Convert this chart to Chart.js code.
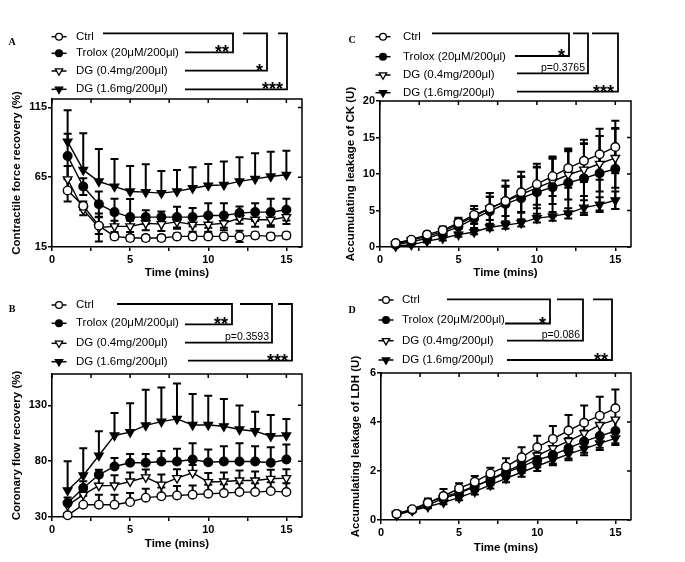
<!DOCTYPE html>
<html>
<head>
<meta charset="utf-8">
<script src="https://cdn.jsdelivr.net/npm/chart.js@4"></script>
<style>
  body { margin: 0; background: #fff; }
  #wrap { position: relative; width: 685px; height: 562px; }
  canvas { position: absolute; }
</style>
</head>
<body>
<div id="wrap">
  <canvas id="chartA" width="340" height="280" style="left:0;top:0;width:340px;height:280px"></canvas>
  <canvas id="chartC" width="345" height="280" style="left:340px;top:0;width:345px;height:280px"></canvas>
  <canvas id="chartB" width="340" height="282" style="left:0;top:280px;width:340px;height:282px"></canvas>
  <canvas id="chartD" width="345" height="282" style="left:340px;top:280px;width:345px;height:282px"></canvas>
</div>
<script>
const times = [1, 2, 3, 4, 5, 6, 7, 8, 9, 10, 11, 12, 13, 14, 15];
const xTicks = [0, 2.5, 5, 7.5, 10, 12.5, 15];
const seriesLabels = ['Ctrl', 'Trolox (20μM/200μl)', 'DG (0.4mg/200μl)', 'DG (1.6mg/200μl)'];

// A - contractile force recovery (%)
const ctrlA = [55.5, 44.5, 30.3, 22.6, 21.4, 21.4, 21.4, 22.6, 22.6, 22.6, 22.6, 22.6, 23.3, 22.6, 23.3];
const ctrlA_err = [8, 3, 6, 2, 2, 2, 2, 2, 2, 2, 2, 4, 2, 2, 2];
const troloxA = [80.2, 58.3, 45.7, 40, 36.4, 36.4, 36.4, 36.4, 36.4, 37.6, 37.6, 39.3, 40, 40, 41.7];
const troloxA_err = [16, 6, 9, 9.5, 13, 5, 4, 7.5, 6.5, 8.8, 8.8, 4.7, 6.4, 9.5, 7.8];
const dg04A = [63.5, 41.7, 29, 29.8, 29.8, 32, 31.4, 33, 31, 31, 32, 35.7, 34.5, 34.5, 36.4];
const dg04A_err = [9.6, 4, 10, 4, 4, 5, 5, 5, 5, 5, 5, 4, 5, 5, 5];
const dg16A = [90.5, 70.2, 61.9, 58.3, 54.8, 54.3, 53.6, 54.8, 57.1, 59, 59.5, 62, 63.8, 65.5, 66.7];
const dg16A_err = [22.5, 26.2, 23.3, 19.8, 18.3, 20, 15.9, 15.4, 15, 15.5, 16.7, 17.3, 18.3, 17.8, 17.3];
const yTicksA = [15, 65, 115];
const sigA = ['**', '*', '***'];

// B - coronary flow recovery (%)
const ctrlB = [31.5, 41, 41, 41, 43.4, 47.3, 48.5, 49.3, 50, 50.8, 51.4, 52.3, 52.3, 53.2, 52.3];
const ctrlB_err = [2, 8, 9, 9, 8, 8, 8, 8.4, 8.3, 8, 8, 8, 8, 8, 8];
const troloxB = [42.5, 55.9, 67.8, 75.2, 78.5, 78.5, 79.7, 79.7, 81.5, 79, 79.7, 79.7, 79.7, 78.5, 81.5];
const troloxB_err = [5, 6, 4.5, 7.5, 8, 8, 9.3, 11.3, 14.5, 11.4, 13.7, 16.3, 13.7, 14, 13.4];
const dg04B = [40.4, 50, 58, 58.3, 61.8, 65.5, 59, 64.8, 69.5, 61.3, 61.8, 62.7, 62.7, 64.2, 64.8];
const dg04B_err = [4, 6, 8, 9, 8, 7, 9, 8, 7, 8, 8, 9, 8, 8, 8];
const dg16B = [53.8, 67.2, 85, 103, 106, 112, 115.4, 117.8, 112.4, 112.4, 111.2, 108.3, 106.8, 102.3, 103];
const dg16B_err = [26, 24.4, 21.8, 20, 25.8, 32, 30.6, 31.8, 27.7, 26.2, 24.5, 21.4, 17.5, 19, 14.8];
const yTicksB = [30, 80, 130];
const sigB = ['**', 'p=0.3593', '***'];

// C - accumulating leakage of CK (U)
const ctrlC = [0.55, 1.0, 1.7, 2.3, 3.3, 4.4, 5.3, 6.3, 7.5, 8.6, 9.7, 10.8, 11.8, 12.7, 13.7];
const ctrlC_err = [0.2, 0.3, 0.4, 0.5, 0.7, 1.2, 2.1, 2.8, 2.8, 2.8, 2.7, 2.7, 2.9, 3.5, 3.6];
const troloxC = [0.3, 0.7, 1.2, 1.9, 2.8, 3.9, 4.9, 5.9, 6.7, 7.5, 8.2, 8.8, 9.4, 10.1, 10.7];
const troloxC_err = [0.2, 0.3, 0.4, 0.6, 0.9, 1.3, 2, 2.5, 3, 3.5, 4, 4.3, 4.7, 5.1, 5.5];
const dg04C = [0.4, 0.9, 1.5, 2.1, 3.15, 4.2, 5.3, 6.25, 7.2, 8.1, 9.0, 9.9, 10.6, 11.4, 12.2];
const dg04C_err = [0.2, 0.3, 0.4, 0.5, 0.7, 1.0, 1.6, 2.0, 2.4, 2.8, 3.1, 3.4, 3.6, 3.8, 4.1];
const dg16C = [0.1, 0.3, 0.8, 1.2, 1.7, 2.05, 2.7, 3.0, 3.3, 3.95, 4.2, 4.6, 5.4, 5.8, 6.4];
const dg16C_err = [0.1, 0.2, 0.2, 0.3, 0.3, 0.3, 0.4, 0.5, 0.5, 0.6, 0.6, 0.7, 1.0, 1.0, 1.2];
const yTicksC = [0, 5, 10, 15, 20];
const sigC = ['*', 'p=0.3765', '***'];

// D - accumulating leakage of LDH (U)
const ctrlD = [0.25, 0.44, 0.7, 0.98, 1.29, 1.56, 1.9, 2.18, 2.56, 2.97, 3.31, 3.65, 3.97, 4.26, 4.56];
const ctrlD_err = [0.05, 0.08, 0.18, 0.29, 0.21, 0.24, 0.23, 0.34, 0.41, 0.47, 0.53, 0.64, 0.7, 0.77, 0.77];
const troloxD = [0.25, 0.41, 0.7, 0.95, 1.13, 1.39, 1.63, 1.93, 2.18, 2.45, 2.65, 2.93, 3.2, 3.43, 3.63];
const troloxD_err = [0.05, 0.06, 0.1, 0.12, 0.15, 0.18, 0.2, 0.22, 0.26, 0.3, 0.35, 0.42, 0.45, 0.48, 0.5];
const dg04D = [0.25, 0.41, 0.61, 0.88, 1.09, 1.36, 1.66, 1.97, 2.27, 2.63, 2.93, 3.22, 3.54, 3.88, 4.1];
const dg04D_err = [0.05, 0.06, 0.1, 0.12, 0.15, 0.18, 0.2, 0.25, 0.28, 0.3, 0.32, 0.35, 0.38, 0.4, 0.42];
const dg16D = [0.2, 0.38, 0.54, 0.72, 0.91, 1.16, 1.43, 1.7, 1.95, 2.2, 2.45, 2.69, 2.9, 3.13, 3.33];
const dg16D_err = [0.04, 0.05, 0.06, 0.08, 0.1, 0.12, 0.14, 0.16, 0.18, 0.2, 0.22, 0.25, 0.26, 0.27, 0.27];
const yTicksD = [0, 2, 4, 6];
const sigD = ['*', 'p=0.086', '**'];

Chart.defaults.font.family = '"Liberation Sans", Arial, sans-serif';
Chart.defaults.color = '#000';

const markers = [
    { style: 'circle', rotation: 0, radius: 4.3, fill: '#fff' },
    { style: 'circle', rotation: 0, radius: 4.3, fill: '#000' },
    { style: 'triangle', rotation: 180, radius: 4.9, fill: '#fff' },
    { style: 'triangle', rotation: 180, radius: 4.9, fill: '#000' },
];

function drawMarker(ctx, m, x, y, r) {
    ctx.beginPath();
    if (m.style === 'circle') {
        ctx.arc(x, y, r, 0, Math.PI * 2);
    } else {
        ctx.moveTo(x - r * 0.866, y - r * 0.5);
        ctx.lineTo(x + r * 0.866, y - r * 0.5);
        ctx.lineTo(x, y + r);
        ctx.closePath();
    }
    ctx.fillStyle = m.fill;
    ctx.fill();
    ctx.lineWidth = 1.3;
    ctx.strokeStyle = '#000';
    ctx.stroke();
}

const errorBarPlugin = {
    id: 'errorBars',
    beforeDatasetsDraw(chart) {
        const { ctx, scales: { x, y } } = chart;
        ctx.save();
        ctx.strokeStyle = '#000';
        ctx.lineWidth = 2;
        chart.data.datasets.forEach(ds => {
            ds.data.forEach((p, j) => {
                const e = ds.errors[j];
                const px = x.getPixelForValue(p.x);
                const hi = y.getPixelForValue(p.y + e);
                const lo = y.getPixelForValue(ds.errDir === 'up' ? p.y : p.y - e);
                ctx.beginPath();
                ctx.moveTo(px, hi); ctx.lineTo(px, lo);
                ctx.moveTo(px - 4, hi); ctx.lineTo(px + 4, hi);
                if (ds.errDir !== 'up') { ctx.moveTo(px - 4, lo); ctx.lineTo(px + 4, lo); }
                ctx.stroke();
            });
        });
        ctx.restore();
    }
};

// top and right side of the box, with inward ticks
const framePlugin = {
    id: 'frame',
    afterDraw(chart) {
        const { ctx, chartArea: a, scales: { x, y } } = chart;
        ctx.save();
        ctx.strokeStyle = '#000';
        ctx.lineWidth = 1.5;
        ctx.beginPath();
        ctx.moveTo(a.left, a.top); ctx.lineTo(a.right, a.top); ctx.lineTo(a.right, a.bottom);
        x.ticks.forEach(t => {
            const px = x.getPixelForValue(t.value);
            ctx.moveTo(px, a.top); ctx.lineTo(px, a.top + 4);
        });
        y.ticks.forEach(t => {
            const py = y.getPixelForValue(t.value);
            ctx.moveTo(a.right, py); ctx.lineTo(a.right - 4, py);
        });
        ctx.stroke();
        ctx.restore();
    }
};

function legendPlugin(L) {
    return {
        id: 'panelLegend',
        afterDraw(chart) {
            const ctx = chart.ctx;
            ctx.save();
            ctx.fillStyle = '#000';
            ctx.font = 'bold 10px "Liberation Serif", serif';
            ctx.textAlign = 'center';
            ctx.textBaseline = 'middle';
            ctx.fillText(L.letter, L.letterX, L.letterY);

            ctx.textAlign = 'left';
            seriesLabels.forEach((lab, i) => {
                const y = L.rowsY[i];
                ctx.strokeStyle = '#000';
                ctx.lineWidth = 1.5;
                ctx.beginPath();
                ctx.moveTo(L.markX - 7.5, y); ctx.lineTo(L.markX + 7.5, y);
                ctx.stroke();
                drawMarker(ctx, markers[i], L.markX, y, markers[i].style === 'circle' ? 3.4 : 4.2);
                ctx.fillStyle = '#000';
                ctx.font = '11.5px "Liberation Sans", Arial, sans-serif';
                ctx.fillText(lab, L.textX, y);
            });

            ctx.strokeStyle = '#000';
            ctx.lineWidth = 1.8;
            ctx.beginPath();
            L.brackets.forEach((b, k) => {
                ctx.moveTo(k === 0 ? L.ctrlStart : b.topStart, L.topY);
                ctx.lineTo(b.x, L.topY);
                ctx.lineTo(b.x, b.rowY);
                ctx.lineTo(b.rowStart, b.rowY);
            });
            ctx.stroke();

            ctx.textAlign = 'right';
            ctx.textBaseline = 'alphabetic';
            L.sig.forEach((s, k) => {
                const b = L.brackets[k];
                if (s.startsWith('p')) {
                    ctx.font = '10.5px "Liberation Sans", Arial, sans-serif';
                    ctx.fillText(s, b.x - 3, b.rowY - 2.5);
                } else {
                    ctx.font = 'bold 18px "Liberation Sans", Arial, sans-serif';
                    ctx.fillText(s, b.x - 4, b.rowY + 6);
                }
            });
            ctx.restore();
        }
    };
}

function makeChart(id, p) {
    const datasets = seriesLabels.map((label, i) => ({
        label: label,
        data: times.map((t, j) => ({ x: t, y: p.values[i][j] })),
        errors: p.errors[i],
        errDir: p.dirs[i],
        borderColor: '#000',
        borderWidth: 1.4,
        pointStyle: markers[i].style,
        pointRotation: markers[i].rotation,
        pointRadius: markers[i].radius,
        pointBackgroundColor: markers[i].fill,
        pointBorderColor: '#000',
        pointBorderWidth: 1.4,
        tension: 0,
        clip: false
    }));

    return new Chart(document.getElementById(id), {
        type: 'line',
        data: { datasets: datasets },
        options: {
            responsive: false,
            animation: false,
            events: [],
            layout: { padding: { left: 0, top: p.area.top, right: p.area.right, bottom: 0 } },
            plugins: {
                legend: { display: false },
                tooltip: { enabled: false }
            },
            scales: {
                x: {
                    type: 'linear',
                    min: 0,
                    max: 16,
                    afterBuildTicks: s => { s.ticks = xTicks.map(v => ({ value: v })); },
                    afterFit: s => { s.height = p.area.xAxisH; },
                    grid: { drawOnChartArea: false, tickLength: 4, color: '#000', lineWidth: 1.5 },
                    border: { color: '#000', width: 1.6 },
                    ticks: {
                        autoSkip: false,
                        maxRotation: 0,
                        padding: 2,
                        color: '#000',
                        font: { size: 11, weight: 'bold' },
                        callback: v => (v % 5 === 0 ? v : '')
                    },
                    title: {
                        display: true,
                        text: 'Time (mins)',
                        color: '#000',
                        font: { size: 11.5, weight: 'bold' },
                        padding: { top: 0, bottom: p.area.xTitlePad }
                    }
                },
                y: {
                    type: 'linear',
                    min: p.yMin,
                    max: p.yMax,
                    afterBuildTicks: s => { s.ticks = p.yTicks.map(v => ({ value: v })); },
                    afterFit: s => { s.width = p.area.left; },
                    grid: { drawOnChartArea: false, tickLength: 4, color: '#000', lineWidth: 1.5 },
                    border: { color: '#000', width: 1.6 },
                    ticks: {
                        autoSkip: false,
                        padding: 1,
                        color: '#000',
                        font: { size: 11, weight: 'bold' }
                    },
                    title: {
                        display: true,
                        text: p.yTitle,
                        color: '#000',
                        font: { size: 11.5, weight: 'bold' },
                        padding: { top: p.area.yTitlePad, bottom: 0 }
                    }
                }
            }
        },
        plugins: [errorBarPlugin, framePlugin, legendPlugin(p.legend)]
    });
}

makeChart('chartA', {
    values: [ctrlA, troloxA, dg04A, dg16A],
    errors: [ctrlA_err, troloxA_err, dg04A_err, dg16A_err],
    dirs: ['both', 'both', 'both', 'up'],
    yMin: 15, yMax: 121, yTicks: yTicksA,
    yTitle: 'Contractile force recovery (%)',
    area: { left: 52, top: 99, right: 38, xAxisH: 33, xTitlePad: 0, yTitlePad: 9.8 },
    legend: {
        letter: 'A', letterX: 12, letterY: 42,
        rowsY: [36.7, 53.3, 71, 89.3], markX: 59, textX: 76,
        topY: 33.3, ctrlStart: 103, sig: sigA,
        brackets: [
            { x: 233, rowStart: 185, rowY: 52.3 },
            { x: 267, topStart: 243, rowStart: 185, rowY: 70.7 },
            { x: 287, topStart: 278, rowStart: 185, rowY: 89.3 }
        ]
    }
});

makeChart('chartC', {
    values: [ctrlC, troloxC, dg04C, dg16C],
    errors: [ctrlC_err, troloxC_err, dg04C_err, dg16C_err],
    dirs: ['both', 'both', 'both', 'both'],
    yMin: 0, yMax: 20, yTicks: yTicksC,
    yTitle: 'Accumulating leakage of CK (U)',
    area: { left: 40, top: 101, right: 54, xAxisH: 33, xTitlePad: 0, yTitlePad: 4.1 },
    legend: {
        letter: 'C', letterX: 12, letterY: 40,
        rowsY: [36.7, 56.7, 75, 92.7], markX: 43, textX: 63,
        topY: 33.3, ctrlStart: 92, sig: sigC,
        brackets: [
            { x: 229, rowStart: 175, rowY: 56 },
            { x: 248, topStart: 233, rowStart: 177, rowY: 73.3 },
            { x: 278, topStart: 252, rowStart: 177, rowY: 91.7 }
        ]
    }
});

makeChart('chartB', {
    values: [ctrlB, troloxB, dg04B, dg16B],
    errors: [ctrlB_err, troloxB_err, dg04B_err, dg16B_err],
    dirs: ['up', 'up', 'up', 'up'],
    yMin: 30, yMax: 158, yTicks: yTicksB,
    yTitle: 'Coronary flow recovery (%)',
    area: { left: 52, top: 94, right: 38, xAxisH: 45, xTitlePad: 11, yTitlePad: 9.8 },
    legend: {
        letter: 'B', letterX: 12, letterY: 29,
        rowsY: [25, 43.3, 63.3, 81.7], markX: 59, textX: 76,
        topY: 24, ctrlStart: 117, sig: sigB,
        brackets: [
            { x: 232, rowStart: 185, rowY: 44.3 },
            { x: 272, topStart: 240, rowStart: 185, rowY: 62.7 },
            { x: 292, topStart: 278, rowStart: 188, rowY: 80.7 }
        ]
    }
});

makeChart('chartD', {
    values: [ctrlD, troloxD, dg04D, dg16D],
    errors: [ctrlD_err, troloxD_err, dg04D_err, dg16D_err],
    dirs: ['up', 'both', 'both', 'both'],
    yMin: 0, yMax: 6, yTicks: yTicksD,
    yTitle: 'Accumulating leakage of LDH (U)',
    area: { left: 41, top: 93, right: 54, xAxisH: 42, xTitlePad: 7, yTitlePad: 9 },
    legend: {
        letter: 'D', letterX: 12, letterY: 30,
        rowsY: [20, 40, 60.7, 80], markX: 46, textX: 62,
        topY: 19.3, ctrlStart: 107, sig: sigD,
        brackets: [
            { x: 210, rowStart: 165, rowY: 43.5 },
            { x: 243, topStart: 217, rowStart: 167, rowY: 60.7 },
            { x: 272, topStart: 253, rowStart: 167, rowY: 80 }
        ]
    }
});
</script>
</body>
</html>
